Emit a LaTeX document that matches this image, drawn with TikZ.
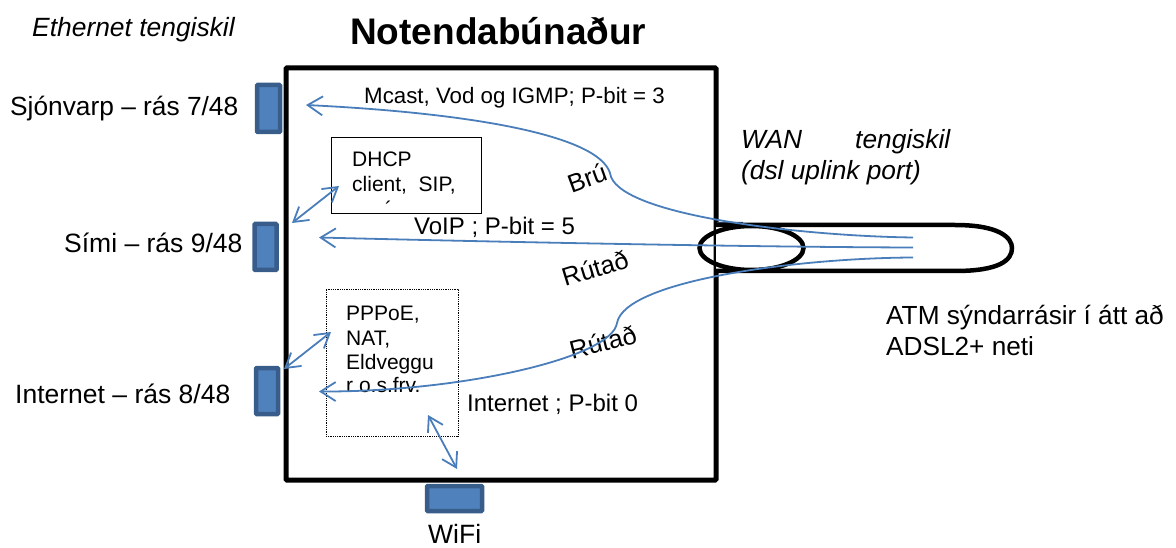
\documentclass[tikz,border=0pt]{standalone}
\usepackage{fontspec}
\setmainfont{Liberation Sans}
\usetikzlibrary{arrows.meta}
\definecolor{lineblue}{HTML}{4A7EBB}
\definecolor{portfill}{HTML}{4F81BD}
\definecolor{portedge}{HTML}{385D8A}
\newcommand{\fs}[1]{\fontsize{#1}{#1}\selectfont}
\tikzset{
  x=1pt,y=-1pt,
  port/.style={draw=portedge,fill=portfill,line width=4.5pt,rounded corners=0.8pt,inner sep=0pt,outer sep=0pt},
  lab/.style={anchor=base west,inner sep=0pt,font=\fs{26.5}},
  small/.style={anchor=base west,inner sep=0pt,font=\fs{21}},
  rot/.style={anchor=center,inner sep=0pt,font=\fs{25.5}},
  heavy/.style={draw=black,line width=4.5pt},
  flow/.style={draw=lineblue,line width=1.8pt,-{Straight Barb[length=15pt,width=19pt,line width=1.8pt]}},
  both/.style={draw=lineblue,line width=1.8pt,{Straight Barb[length=14pt,width=17pt,line width=1.8pt]}-{Straight Barb[length=14pt,width=17pt,line width=1.8pt]}},
}
\begin{document}
\begin{tikzpicture}
\useasboundingbox (0,0) rectangle (1176,548);
\draw[line width=5pt,rounded corners=1pt] (286,68) rectangle (716,480);
\node[port,minimum width=23pt,minimum height=47pt] (tv) at (268.5,108.5) {};
\node[port,minimum width=22pt,minimum height=46pt] (phone) at (265.5,247) {};
\node[port,minimum width=22pt,minimum height=46pt] (inet) at (267,391) {};
\node[port,minimum width=55pt,minimum height=25pt] (wifi) at (454.5,498.5) {};
\fill[portedge] (717,222) -- (743,222) -- (743,224) -- (717,235) -- cycle;
\fill[portfill] (717,262) -- (733,271) -- (717,273) -- cycle;
\node[draw=black,line width=0.9pt,fill=white,minimum width=150pt,minimum height=76pt,inner sep=0pt] (dhcp) at (406.5,175) {};
\node[draw=black,densely dotted,line width=0.8pt,minimum width=132pt,minimum height=147pt,inner sep=0pt] (ppp) at (392,362.5) {};
\draw[heavy,fill=white] (716,225) -- (955,225) .. controls (1000,225) and (1012,238) .. (1012,248) .. controls (1012,260) and (1000,271) .. (955,271) -- (716,271);
\draw[line width=4.5pt] (751.5,248) ellipse [x radius=52,y radius=22];
\node[anchor=base west,inner sep=0pt,font=\fs{26.4}\itshape] (eth) at (32,36.5) {Ethernet tengiskil};
\node[anchor=base west,inner sep=0pt,font=\fs{37}\bfseries] (title) at (350,44.5) {Notendabúnaður};
\node[lab,font=\fs{26.3}] (ltv) at (10,116) {Sjónvarp – rás 7/48};
\node[lab] (lphone) at (64,253) {Sími – rás 9/48};
\node[lab] (linet) at (15,403) {Internet – rás 8/48};
\node[lab] (lwifi) at (428,543) {WiFi};
\node[small,font=\fs{22.3}] (mcast) at (364,103.5) {Mcast, Vod og IGMP; P-bit = 3};
\node[lab,font=\fs{24}] (voip) at (414,235) {VoIP ; P-bit = 5};
\node[lab,font=\fs{24}] (ipb) at (467,411) {Internet ; P-bit 0};
\node[small] (d1) at (352,166.5) {DHCP};
\node[small] (d2) at (352,191.5) {client,\ \ SIP,};
\node[small] (d3) at (385,217) {´};
\node[small] (p1) at (346,320) {PPPoE,};
\node[small] (p2) at (346,345) {NAT,};
\node[small] (p3) at (346,369.5) {Eldveggu};
\node[small] (p4) at (346,392) {r o.s.frv.};
\node[lab,font=\fs{26.3}\itshape] (w1) at (741,148.5) {WAN};
\node[lab,font=\fs{26.3}\itshape] (w2) at (855,148.5) {tengiskil};
\node[lab,font=\fs{26.3}\itshape] (w3) at (741,179.5) {(dsl uplink port)};
\node[lab,font=\fs{26.2}] (a1) at (886,324) {ATM sýndarrásir í átt að};
\node[lab,font=\fs{26.2}] (a2) at (886,355) {ADSL2+ neti};
\node[rot,rotate=20] (bru) at (587,178) {Brú};
\node[rot,rotate=17] (r1) at (595,268) {Rútað};
\node[rot,rotate=14] (r2) at (603,342) {Rútað};
\coordinate (e1) at (913,237.5);
\coordinate (e2) at (913,247.5);
\coordinate (e3) at (913,257.5);
\coordinate (t1) at (306,105);
\coordinate (t2) at (319,237.5);
\coordinate (t3) at (319,391.5);
\coordinate (b1a) at (292,223);
\coordinate (b1b) at (339,186);
\coordinate (b2a) at (284,369);
\coordinate (b2b) at (331,332);
\coordinate (b3a) at (428,415);
\coordinate (b3b) at (457,469);
\draw[flow] (e1) .. controls (800,236) and (615,215) .. (610,173) .. controls (598,135) and (470,113) .. (t1);
\draw[flow] (e2) .. controls (750,247) and (500,242) .. (t2);
\draw[flow] (e3) .. controls (800,258) and (625,280) .. (617,323) .. controls (612,358) and (460,392) .. (t3);
\draw[both] (b1a) -- (b1b);
\draw[both] (b2a) -- (b2b);
\draw[both] (b3a) -- (b3b);
\end{tikzpicture}
\end{document}
